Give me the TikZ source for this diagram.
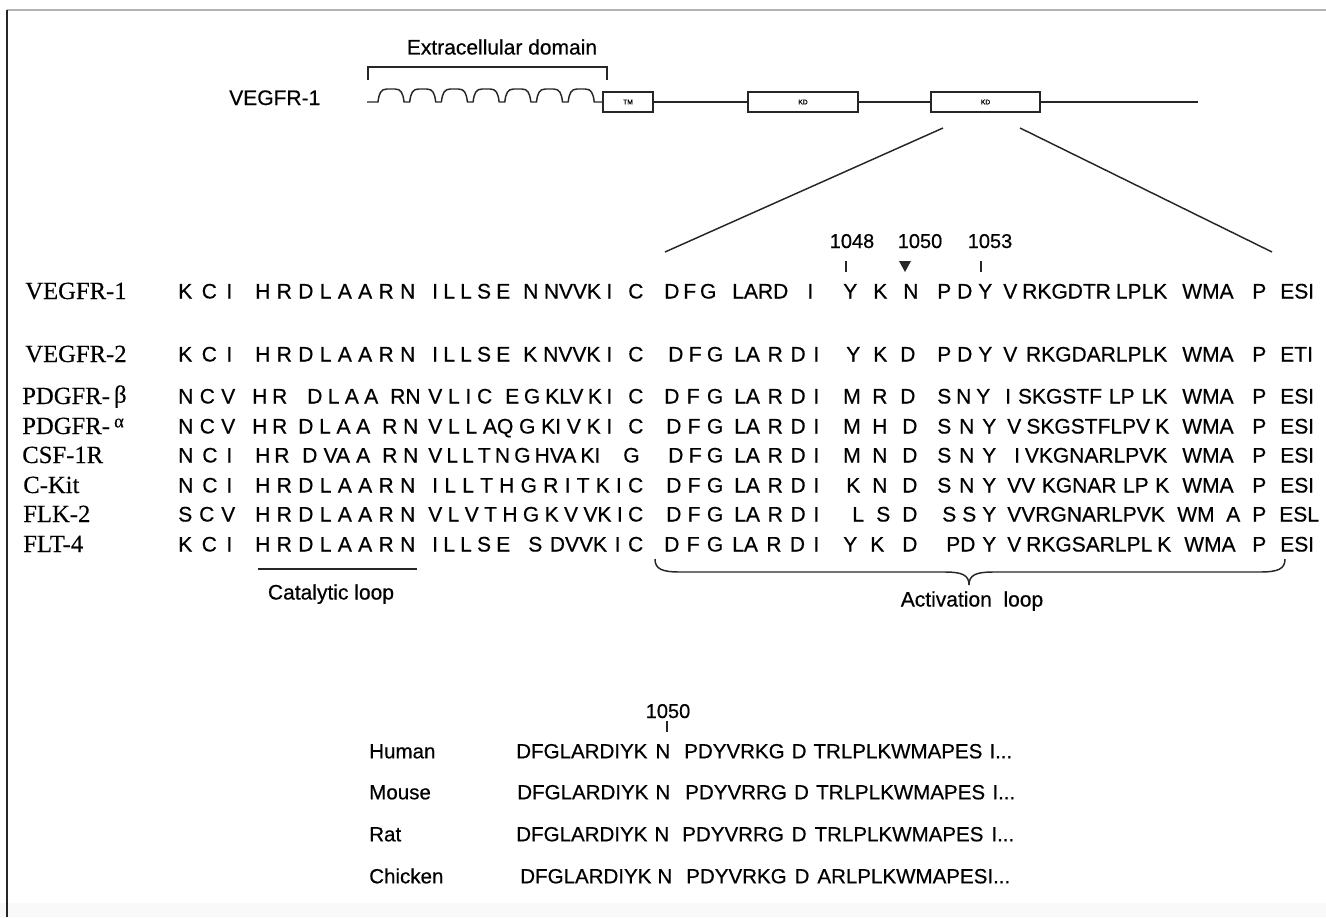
\documentclass[tikz,border=0pt]{standalone}
\usepackage{fontspec}
\setmainfont{Liberation Sans}[FakeBold=0.5]
\newfontfamily\timesf{Liberation Serif}[FakeBold=0.3]
\newcommand\sqf{\fontsize{15.75}{18}\selectfont}
\newcommand\bqf{\fontsize{15.4}{18}\selectfont}
\newcommand\nmf{\fontsize{15}{18}\selectfont}
\newcommand\lbf{\timesf\fontsize{18.5}{22}\selectfont}
\newcounter{chk}
% chunk stretched between x1 and x2, cap centre at y
\newcommand\sqc[4]{\stepcounter{chk}\node[seq] (c\arabic{chk}) at (#1,{#3+7.5}) {\makebox[\dimexpr 0.75pt*(#2-#1)\relax][s]{#4}};}
% single chunk at natural width
\newcommand\sqo[3]{\stepcounter{chk}\node[seq] (c\arabic{chk}) at (#1,{#2+7.5}) {#3};}
\newcommand\bsc[4]{\stepcounter{chk}\node[bseq] (c\arabic{chk}) at (#1,{#3+7.3}) {\makebox[\dimexpr 0.75pt*(#2-#1)\relax][s]{#4}};}
\begin{document}
\begin{tikzpicture}[x=0.75pt,y=-0.75pt,
 seq/.style={anchor=base west,inner sep=0pt,font=\sqf},
 bseq/.style={anchor=base west,inner sep=0pt,font=\bqf},
 lbl/.style={anchor=base west,inner sep=0pt,font=\lbf},
 sans/.style={inner sep=0pt,font=\sqf},
 num/.style={inner sep=0pt,anchor=base,font=\nmf},
 ln/.style={line width=1.1pt,black!85},
 tk/.style={line width=0.9pt,black!85},
 dbox/.style={draw=black!85,line width=1.3pt,minimum height=15pt,inner sep=0pt,font=\fontsize{5}{6}\selectfont}
]
\useasboundingbox (0,0) rectangle (1326,917);
\fill[gray!5] (0,903) rectangle (1326,917);
\draw[gray!60,line width=1.2pt] (7,10) -- (1326,10);
\draw[black!85,line width=1.6pt] (7,10) -- (7,917);

% ---------- receptor scheme ----------
\node[sans,anchor=base] (ecd) at (502,54.5) {Extracellular domain};
\draw[ln] (368,80) -- (368,67) -- (607,67) -- (607,80);
\node[sans,anchor=base west] (vtop) at (229,105) {VEGFR-1};
\node[dbox,minimum width=37.5pt] (tm) at (628,102) {TM};
\node[dbox,minimum width=82.5pt] (kd1) at (803,102) {KD};
\node[dbox,minimum width=81.75pt] (kd2) at (985.5,102) {KD};
\coordinate (wstart) at (367,102);
\coordinate (tail) at (1198,102);
\draw[ln,line join=round] (wstart) \foreach \i in {0,...,6}{ -- ({378+31.7*\i},102) .. controls ({379+31.7*\i},93) and ({381+31.7*\i},89) .. ({387+31.7*\i},89) -- ({395+31.7*\i},89) .. controls ({401+31.7*\i},89) and ({403+31.7*\i},93) .. ({404+31.7*\i},102)} -- (tm.west);
\draw[ln] (tm.east) -- (kd1.west);
\draw[ln] (kd1.east) -- (kd2.west);
\draw[ln] (kd2.east) -- (tail);
\coordinate (zl) at (943,128);
\coordinate (zr) at (1020,128);
\coordinate (el) at (665,252);
\coordinate (er) at (1272,252);
\draw[ln] (zl) -- (el);
\draw[ln] (zr) -- (er);

% ---------- position marks ----------
\node[num] (n1048) at (852,248) {1048};
\node[num] (n1050) at (920,248) {1050};
\node[num] (n1053) at (990,248) {1053};
\draw[tk] (846,261) -- (846,272);
\draw[tk] (981,261) -- (981,272);
\fill[black!85] (899,261) -- (911,261) -- (905,272) -- cycle;

% ---------- labels ----------
\def\ra{291}\def\rb{354}\def\rc{396}\def\rd{426}\def\re{455}\def\rf{485}\def\rg{514}\def\rh{544}
\node[lbl] (l1) at (25,{\ra+8}) {VEGFR-1};
\node[lbl] (l2) at (25,{\rb+8}) {VEGFR-2};
\node[lbl] (l3) at (22,{\rc+8}) {PDGFR-\,\raisebox{1pt}{β}};
\node[lbl] (l4) at (22,{\rd+8}) {PDGFR-\,\raisebox{5pt}{\fontsize{14}{14}\selectfont α}};
\node[lbl] (l5) at (22,{\re+8}) {CSF-1R};
\node[lbl] (l6) at (23,{\rf+8}) {C-Kit};
\node[lbl] (l7) at (23,{\rg+8}) {FLK-2};
\node[lbl] (l8) at (23,{\rh+8}) {FLT-4};

% ---------- row 1 VEGFR-1 ----------
\sqc{178}{232}{\ra}{K C I}
\sqc{255}{415}{\ra}{H R D L A A R N}
\sqc{432}{510}{\ra}{I L L S E}
\sqc{523}{612}{\ra}{N NVVK I}
\sqo{628}{\ra}{C}
\sqc{664}{716}{\ra}{D F G}
\sqc{732}{813}{\ra}{LARD I}
\sqo{843}{\ra}{Y}
\sqo{873}{\ra}{K}
\sqo{903}{\ra}{N}
\sqc{937}{992}{\ra}{P D Y}
\sqc{1003}{1167}{\ra}{V RKGDTR LPLK}
\sqo{1182}{\ra}{WMA}
\sqo{1252}{\ra}{P}
\sqo{1280}{\ra}{ESI}
% ---------- row 2 VEGFR-2 ----------
\sqc{178}{232}{\rb}{K C I}
\sqc{255}{415}{\rb}{H R D L A A R N}
\sqc{432}{510}{\rb}{I L L S E}
\sqc{523}{612}{\rb}{K NVVK I}
\sqo{628}{\rb}{C}
\sqc{668}{723}{\rb}{D F G}
\sqc{734}{819}{\rb}{LA R D I}
\sqo{846}{\rb}{Y}
\sqo{873}{\rb}{K}
\sqo{900}{\rb}{D}
\sqc{937}{992}{\rb}{P D Y}
\sqc{1003}{1167}{\rb}{V RKGDARLPLK}
\sqo{1182}{\rb}{WMA}
\sqo{1252}{\rb}{P}
\sqo{1280}{\rb}{ETI}
% ---------- row 3 PDGFR-beta ----------
\sqc{178}{235}{\rc}{N C V}
\sqc{252}{287}{\rc}{H R}
\sqc{307}{378}{\rc}{D L A A}
\sqo{390}{\rc}{RN}
\sqc{428}{492}{\rc}{V L I C}
\sqc{505}{540}{\rc}{E G}
\sqc{545}{612}{\rc}{KLV K I}
\sqo{628}{\rc}{C}
\sqc{664}{723}{\rc}{D F G}
\sqc{734}{819}{\rc}{LA R D I}
\sqo{843}{\rc}{M}
\sqo{872}{\rc}{R}
\sqo{900}{\rc}{D}
\sqc{937}{990}{\rc}{S N Y}
\sqc{1005}{1167}{\rc}{I SKGSTF LP LK}
\sqo{1182}{\rc}{WMA}
\sqo{1252}{\rc}{P}
\sqo{1280}{\rc}{ESI}
% ---------- row 4 PDGFR-alpha ----------
\sqc{178}{235}{\rd}{N C V}
\sqc{252}{287}{\rd}{H R}
\sqc{298}{370}{\rd}{D L A A}
\sqc{382}{418}{\rd}{R N}
\sqc{428}{612}{\rd}{V L L AQ G KI V K I}
\sqo{628}{\rd}{C}
\sqc{666}{723}{\rd}{D F G}
\sqc{734}{819}{\rd}{LA R D I}
\sqo{843}{\rd}{M}
\sqo{872}{\rd}{H}
\sqo{902}{\rd}{D}
\sqc{937}{996}{\rd}{S N Y}
\sqc{1007}{1169}{\rd}{V SKGSTFLPV K}
\sqo{1182}{\rd}{WMA}
\sqo{1252}{\rd}{P}
\sqo{1280}{\rd}{ESI}
% ---------- row 5 CSF-1R ----------
\sqc{178}{232}{\re}{N C I}
\sqc{255}{288}{\re}{H R}
\sqc{302}{370}{\re}{D VA A}
\sqc{382}{418}{\re}{R N}
\sqc{428}{600}{\re}{V L L T N G HVA KI}
\sqo{623}{\re}{G}
\sqc{668}{723}{\re}{D F G}
\sqc{734}{819}{\re}{LA R D I}
\sqo{843}{\re}{M}
\sqo{872}{\re}{N}
\sqo{902}{\re}{D}
\sqc{937}{996}{\re}{S N Y}
\sqc{1014}{1167}{\re}{I VKGNARLPVK}
\sqo{1182}{\re}{WMA}
\sqo{1252}{\re}{P}
\sqo{1280}{\re}{ESI}
% ---------- row 6 C-Kit ----------
\sqc{178}{232}{\rf}{N C I}
\sqc{255}{415}{\rf}{H R D L A A R N}
\sqc{432}{643}{\rf}{I L L T H G R I T K I C}
\sqc{666}{723}{\rf}{D F G}
\sqc{734}{819}{\rf}{LA R D I}
\sqo{846}{\rf}{K}
\sqo{872}{\rf}{N}
\sqo{902}{\rf}{D}
\sqc{937}{996}{\rf}{S N Y}
\sqc{1007}{1169}{\rf}{VV KGNAR LP K}
\sqo{1182}{\rf}{WMA}
\sqo{1252}{\rf}{P}
\sqo{1280}{\rf}{ESI}
% ---------- row 7 FLK-2 ----------
\sqc{178}{235}{\rg}{S C V}
\sqc{255}{415}{\rg}{H R D L A A R N}
\sqc{428}{643}{\rg}{V L V T H G K V VK I C}
\sqc{666}{723}{\rg}{D F G}
\sqc{734}{819}{\rg}{LA R D I}
\sqo{852}{\rg}{L}
\sqo{876}{\rg}{S}
\sqo{902}{\rg}{D}
\sqc{942}{996}{\rg}{S S Y}
\sqc{1007}{1163}{\rg}{VVRGNARLPVK}
\sqc{1177}{1240}{\rg}{WM A}
\sqo{1252}{\rg}{P}
\sqo{1279}{\rg}{ESL}
% ---------- row 8 FLT-4 ----------
\sqc{178}{232}{\rh}{K C I}
\sqc{255}{415}{\rh}{H R D L A A R N}
\sqc{432}{510}{\rh}{I L L S E}
\sqc{528}{643}{\rh}{S DVVK I C}
\sqc{664}{723}{\rh}{D F G}
\sqc{732}{819}{\rh}{LA R D I}
\sqo{843}{\rh}{Y}
\sqo{870}{\rh}{K}
\sqo{902}{\rh}{D}
\sqc{946}{996}{\rh}{PD Y}
\sqc{1007}{1171}{\rh}{V RKGSARLPL K}
\sqo{1184}{\rh}{WMA}
\sqo{1252}{\rh}{P}
\sqo{1280}{\rh}{ESI}

% ---------- loops ----------
\draw[ln] (258,569) -- (417,569);
\node[sans,anchor=base] (cat) at (331,599.5) {Catalytic loop};
\draw[ln] (655,559) .. controls (655,569) and (662,572) .. (680,572) -- (945,572) .. controls (962,572) and (969,575) .. (969,585) .. controls (969,575) and (976,572) .. (993,572) -- (1260,572) .. controls (1278,572) and (1285,569) .. (1285,559);
\node[sans,anchor=base] (act) at (972,606.5) {Activation\ \ loop};

% ---------- species ----------
\node[num] (b1050) at (668,718) {1050};
\draw[tk] (667,721) -- (667,732);
\def\sa{751}\def\sb{792}\def\sc{834}\def\sd{876}
\node[bseq] (h) at (369,{\sa+7.3}) {Human};
\node[bseq] (m) at (369,{\sb+7.3}) {Mouse};
\node[bseq] (r) at (369,{\sc+7.3}) {Rat};
\node[bseq] (ck) at (369,{\sd+7.3}) {Chicken};
\bsc{516}{670}{\sa}{DFGLARDIYK N}
\bsc{684}{1012}{\sa}{PDYVRKG D TRLPLKWMAPES I...}
\bsc{517}{670}{\sb}{DFGLARDIYK N}
\bsc{685}{1015}{\sb}{PDYVRRG D TRLPLKWMAPES I...}
\bsc{516}{669}{\sc}{DFGLARDIYK N}
\bsc{682}{1014}{\sc}{PDYVRRG D TRLPLKWMAPES I...}
\bsc{520}{672}{\sd}{DFGLARDIYK N}
\bsc{686}{1010}{\sd}{PDYVRKG D ARLPLKWMAPESI...}
\end{tikzpicture}
\end{document}
